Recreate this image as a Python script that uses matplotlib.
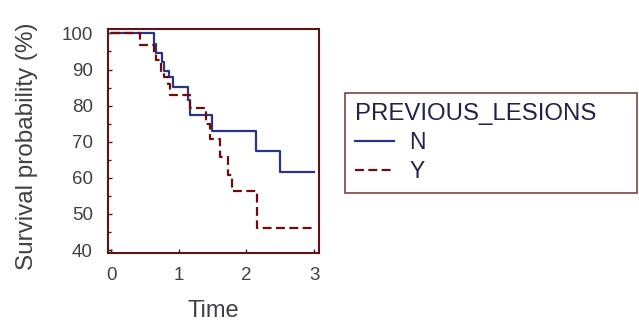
import matplotlib
matplotlib.use('Agg')
import matplotlib.pyplot as plt
from matplotlib.ticker import MultipleLocator

plt.rcParams['font.family'] = ['Liberation Sans', 'DejaVu Sans']

# Kaplan-Meier steps (time, survival % after the step)
n_times = [0, 0.63, 0.66, 0.75, 0.78, 0.85, 0.92, 1.14, 1.16, 1.49, 2.14, 2.50, 3.0]
n_surv = [100, 97, 94.5, 92, 89.5, 88, 85.2, 81.5, 77.5, 73, 67.5, 61.5, 61.5]

y_times = [0, 0.43, 0.63, 0.66, 0.74, 0.78, 0.84, 0.87, 1.16, 1.41, 1.46, 1.61, 1.73, 1.78, 2.15, 3.0]
y_surv = [100, 96.8, 94.5, 92.5, 89.5, 88, 86, 83, 79.2, 75, 70.8, 65.9, 60.9, 56.3, 46.1, 46.1]

group_labels = ['N', 'Y']
legend_title = 'PREVIOUS_LESIONS'

frame_col = '#5e1414'
text_col = '#404048'
navy = '#22224a'
blue = '#2b3588'
red = '#6e0c0c'

fig = plt.figure(figsize=(6.39, 3.23), dpi=100)
ax = fig.add_axes([0.169, 0.217, 0.330, 0.693])

ax.step(n_times, n_surv, where='post', color=blue, lw=1.6, label=group_labels[0])
ax.step(y_times, y_surv, where='post', color=red, lw=1.6, ls=(0, (4, 2)),
        label=group_labels[1])

ax.set_xlim(-0.045, 3.07)
ax.set_ylim(39.2, 101.2)
ax.xaxis.set_major_locator(MultipleLocator(1))
ax.yaxis.set_major_locator(MultipleLocator(10))
ax.yaxis.set_minor_locator(MultipleLocator(5))

for s in ax.spines.values():
    s.set_color(frame_col)
    s.set_linewidth(1.5)
ax.tick_params(which='both', direction='in', color=frame_col, labelcolor=text_col,
               labelsize=13.5)
ax.tick_params(which='major', length=3, width=1)
ax.tick_params(which='minor', length=2, width=1)
ax.tick_params(axis='y', pad=11)
ax.tick_params(axis='x', pad=10)

ax.set_xlabel('Time', fontsize=17, color=text_col, va='top')
ax.xaxis.set_label_coords(0.5, -0.21)
ax.set_ylabel('Survival probability (%)', fontsize=17.5, color=text_col)
ax.yaxis.set_label_coords(-0.33, 0.478)

# legend box spans the right part of the figure, entries stay on the left
leg = ax.legend(title=legend_title, loc='upper left',
                bbox_to_anchor=(0.540, 0.612, 0.457, 0.1), mode='expand',
                bbox_transform=fig.transFigure, frameon=True, fancybox=False,
                alignment='left', fontsize=16.5, title_fontsize=17.3,
                handlelength=1.7, handletextpad=0.65, borderpad=0.45,
                labelspacing=0.25, borderaxespad=0)
leg.get_frame().set_edgecolor(frame_col)
leg.get_frame().set_linewidth(1.2)
leg.get_title().set_color(navy)
for t in leg.get_texts():
    t.set_color(navy)

fig.savefig('out.png', dpi=100)
